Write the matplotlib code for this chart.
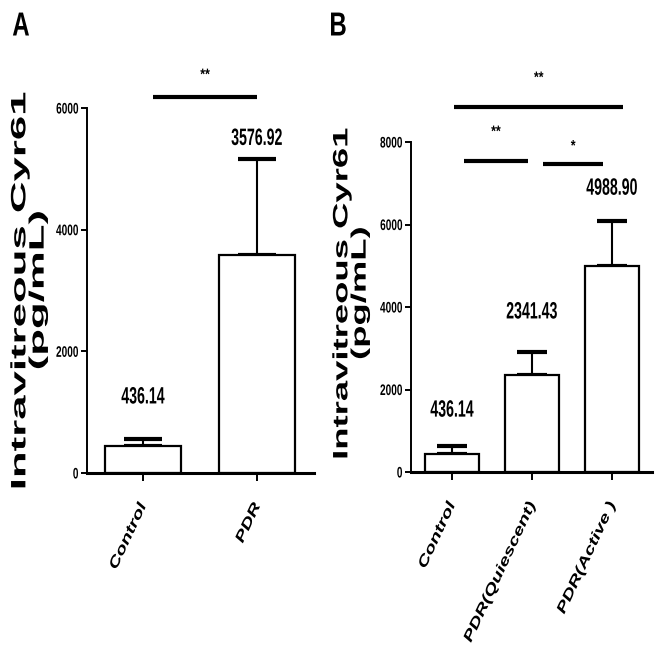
import numpy as np
import matplotlib
matplotlib.use("Agg")
import matplotlib.pyplot as plt
import matplotlib.patheffects as pe
from matplotlib.transforms import Affine2D

# panel A
groups_a = ["Control", "PDR"]
means_a = [436.14, 3576.92]
sem_a = [123, 1587]
labels_a = ["436.14", "3576.92"]
label_y_a = [1250, 5500]
yticks_a = [0, 2000, 4000, 6000]
# (x from, x to, height, stars)
sig_a = [(0.09, 1.0, 6180, "**")]

# panel B
groups_b = ["Control", "PDR(Quiescent)", "PDR(Active )"]
means_b = [436.14, 2341.43, 4988.90]
sem_b = [200, 561, 1104]
labels_b = ["436.14", "2341.43", "4988.90"]
label_y_b = [1500, 3880, 6880]
yticks_b = [0, 2000, 4000, 6000, 8000]
sig_b = [(0.03, 2.14, 8850, "**"),
         (0.15, 0.95, 7540, "**"),
         (1.14, 1.89, 7470, "*")]

YLABEL = "Intravitreous Cyr61\n(pg/mL)"

plt.rcParams["font.family"] = "Liberation Sans"

W, H = 664, 648


class Squeeze(pe.AbstractPathEffect):
    """Stretch/condense text along its own direction (the source image is distorted)."""

    def __init__(self, sx, anchor=0.5):
        super().__init__()
        self.sx = sx
        self.anchor = anchor

    def draw_path(self, renderer, gc, tpath, affine, rgbFace=None):
        ext = tpath.get_extents()
        x0 = ext.x0 + self.anchor * ext.width
        t = Affine2D().translate(-x0, 0).scale(self.sx, 1).translate(x0, 0)
        renderer.draw_path(gc, tpath, t + affine, rgbFace)


def px_rect(left, top, right, bottom):
    return [left / W, 1 - bottom / H, (right - left) / W, (bottom - top) / H]


def draw_panel(ax, groups, means, sem, labels, label_y, yticks, xlim, width,
               capsize, sigs, star_dy):
    x = np.arange(len(groups))
    ax.bar(x, means, width=width, color="white", edgecolor="black",
           linewidth=1.6, zorder=2)
    ax.errorbar(x, means, yerr=[np.zeros(len(means)), sem], fmt="none",
                ecolor="black", elinewidth=1.5, capsize=capsize, capthick=3,
                zorder=1)
    for xi, lab, ly in zip(x, labels, label_y):
        ax.text(xi, ly, lab, ha="center", va="center", fontsize=17,
                fontweight="bold", path_effects=[Squeeze(0.6)])
    for x0, x1, y, stars in sigs:
        ax.plot([x0, x1], [y, y], color="black", lw=3, clip_on=False,
                solid_capstyle="butt")
        ax.text((x0 + x1) / 2, y + star_dy, stars, ha="center", va="center",
                fontsize=11, fontweight="bold", path_effects=[Squeeze(0.8)])

    ax.set_xlim(*xlim)
    ax.set_ylim(0, yticks[-1])
    ax.set_yticks(yticks)
    ax.set_yticklabels([str(t) for t in yticks])
    ax.set_xticks(x)
    ax.set_xticklabels(groups, rotation=65, ha="right", va="center",
                       rotation_mode="anchor", fontstyle="italic",
                       fontweight="bold", fontsize=10)
    for sp in ["top", "right"]:
        ax.spines[sp].set_visible(False)
    ax.spines["left"].set_linewidth(1.4)
    ax.spines["bottom"].set_linewidth(2.2)
    ax.tick_params(axis="y", length=4, width=1.4, pad=2, labelsize=11)
    ax.tick_params(axis="x", length=6, width=1.4, pad=16)
    for t in ax.get_yticklabels():
        t.set_fontweight("bold")
        t.set_path_effects([Squeeze(0.66, anchor=1.0)])
    for t in ax.get_xticklabels():
        t.set_path_effects([Squeeze(1.45, anchor=1.0)])


fig = plt.figure(figsize=(W / 100, H / 100), dpi=100)

ax_a = fig.add_axes(px_rect(87, 108, 314, 473))
draw_panel(ax_a, groups_a, means_a, sem_a, labels_a, label_y_a, yticks_a,
           (-0.491, 1.50), 0.667, 13.5, sig_a, 360)

ax_b = fig.add_axes(px_rect(411, 142, 652, 472))
draw_panel(ax_b, groups_b, means_b, sem_b, labels_b, label_y_b, yticks_b,
           (-0.5125, 2.5), 0.675, 10.5, sig_b, 700)
# the single star on the right bracket sits a bit lower
ax_b.texts[-1].set_y(7470 + 420)

fig.text(29 / W, 1 - 290 / H, YLABEL, rotation=90, ha="center", va="center",
         fontsize=15, fontweight="bold", linespacing=0.95,
         path_effects=[Squeeze(2.1)])
fig.text(351 / W, 1 - 293 / H, YLABEL, rotation=90, ha="center", va="center",
         fontsize=15, fontweight="bold", linespacing=0.95,
         path_effects=[Squeeze(1.75)])

fig.text(21 / W, 1 - 27 / H, "A", ha="center", va="center", fontsize=24,
         fontweight="bold", path_effects=[Squeeze(0.72)])
fig.text(338 / W, 1 - 27 / H, "B", ha="center", va="center", fontsize=24,
         fontweight="bold", path_effects=[Squeeze(0.72)])

fig.savefig("out.png", dpi=100)
